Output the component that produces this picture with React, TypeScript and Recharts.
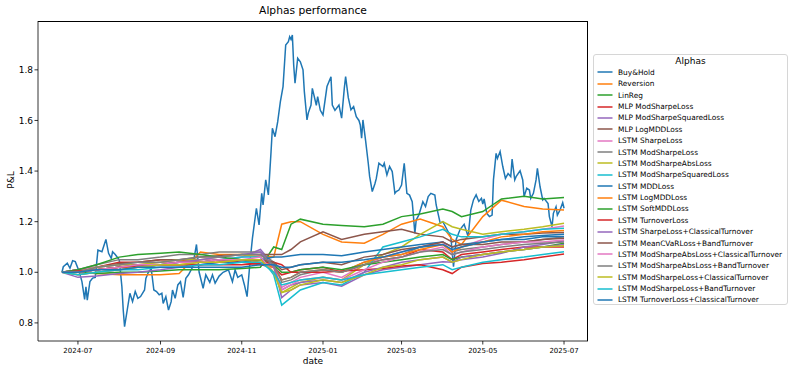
import React from 'react'
import { LineChart, Line, XAxis, YAxis } from 'recharts'

// Buy&Hold is sampled densely, the model alphas on a coarser grid
const bhDates = [
  '2024-06-19', '2024-06-20', '2024-06-23', '2024-06-25', '2024-06-27', '2024-06-29', '2024-07-02', '2024-07-04',
  '2024-07-06', '2024-07-07', '2024-07-08', '2024-07-10', '2024-07-12', '2024-07-14', '2024-07-16', '2024-07-19',
  '2024-07-22', '2024-07-24', '2024-07-26', '2024-07-27', '2024-07-29', '2024-08-01', '2024-08-03', '2024-08-04',
  '2024-08-05', '2024-08-07', '2024-08-09', '2024-08-11', '2024-08-13', '2024-08-15', '2024-08-17', '2024-08-20',
  '2024-08-21', '2024-08-23', '2024-08-25', '2024-08-27', '2024-08-29', '2024-08-31', '2024-09-02', '2024-09-03',
  '2024-09-05', '2024-09-07', '2024-09-09', '2024-09-10', '2024-09-12', '2024-09-14', '2024-09-16', '2024-09-18',
  '2024-09-20', '2024-09-22', '2024-09-25', '2024-09-28', '2024-09-30', '2024-10-03', '2024-10-05', '2024-10-08',
  '2024-10-10', '2024-10-12', '2024-10-15', '2024-10-18', '2024-10-22', '2024-10-25', '2024-10-27', '2024-10-29',
  '2024-11-01', '2024-11-03', '2024-11-05', '2024-11-07', '2024-11-09', '2024-11-12', '2024-11-14', '2024-11-16',
  '2024-11-17', '2024-11-19', '2024-11-21', '2024-11-23', '2024-11-24', '2024-11-26', '2024-11-28', '2024-11-30',
  '2024-12-02', '2024-12-04', '2024-12-06', '2024-12-07', '2024-12-08', '2024-12-09', '2024-12-10', '2024-12-11',
  '2024-12-13', '2024-12-15', '2024-12-17', '2024-12-18', '2024-12-20', '2024-12-21', '2024-12-23', '2024-12-24',
  '2024-12-27', '2024-12-28', '2024-12-30', '2025-01-01', '2025-01-04', '2025-01-07', '2025-01-08', '2025-01-10',
  '2025-01-13', '2025-01-15', '2025-01-17', '2025-01-18', '2025-01-20', '2025-01-22', '2025-01-24', '2025-01-26',
  '2025-01-28', '2025-01-29', '2025-01-30', '2025-01-31', '2025-02-02', '2025-02-04', '2025-02-05', '2025-02-07',
  '2025-02-09', '2025-02-10', '2025-02-12', '2025-02-15', '2025-02-16', '2025-02-18', '2025-02-20', '2025-02-22',
  '2025-02-24', '2025-02-25', '2025-02-27', '2025-03-01', '2025-03-03', '2025-03-05', '2025-03-07', '2025-03-09',
  '2025-03-11', '2025-03-12', '2025-03-14', '2025-03-17', '2025-03-19', '2025-03-21', '2025-03-23', '2025-03-26',
  '2025-03-27', '2025-03-30', '2025-04-01', '2025-04-04', '2025-04-07', '2025-04-09', '2025-04-11', '2025-04-14',
  '2025-04-17', '2025-04-20', '2025-04-22', '2025-04-24', '2025-04-26', '2025-04-28', '2025-04-30', '2025-05-01',
  '2025-05-02', '2025-05-04', '2025-05-06', '2025-05-08', '2025-05-09', '2025-05-11', '2025-05-12', '2025-05-14',
  '2025-05-16', '2025-05-18', '2025-05-20', '2025-05-22', '2025-05-23', '2025-05-25', '2025-05-26', '2025-05-29',
  '2025-05-31', '2025-06-01', '2025-06-03', '2025-06-05', '2025-06-06', '2025-06-08', '2025-06-10', '2025-06-11',
  '2025-06-13', '2025-06-15', '2025-06-16', '2025-06-19', '2025-06-20', '2025-06-22', '2025-06-23', '2025-06-25',
  '2025-06-26', '2025-06-28', '2025-06-30', '2025-07-01',
]
const buyHold = [
  1.0, 1.022, 1.036, 1.016, 1.046, 1.042, 1.002, 0.963,
  0.893, 0.943, 0.89, 0.963, 0.977, 0.98, 1.088, 1.081,
  1.13, 1.075, 1.055, 1.081, 1.07, 1.049, 0.943, 0.851,
  0.785, 0.851, 0.917, 0.884, 0.924, 0.897, 0.904, 0.93,
  0.976, 1.002, 1.015, 0.93, 0.924, 0.911, 0.917, 0.877,
  0.904, 0.851, 0.884, 0.93, 0.897, 0.95, 0.963, 0.901,
  0.976, 0.99, 1.02, 1.11, 1.0, 0.937, 0.99, 0.96,
  0.99, 0.957, 0.985, 1.0, 1.01, 0.963, 1.009, 0.98,
  0.99, 0.95, 0.904, 1.029, 1.134, 1.253, 1.187, 1.312,
  1.266, 1.365, 1.306, 1.477, 1.569, 1.536, 1.595, 1.674,
  1.734, 1.898, 1.911, 1.931, 1.92, 1.938, 1.819, 1.747,
  1.846, 1.832, 1.8, 1.714, 1.602, 1.63, 1.661, 1.727,
  1.66, 1.694, 1.64, 1.622, 1.734, 1.773, 1.661, 1.64,
  1.661, 1.609, 1.727, 1.773, 1.69, 1.642, 1.655, 1.615,
  1.6, 1.582, 1.53, 1.602, 1.52, 1.431, 1.38, 1.319,
  1.35, 1.37, 1.431, 1.418, 1.431, 1.385, 1.418, 1.398,
  1.312, 1.319, 1.325, 1.345, 1.431, 1.312, 1.305, 1.279,
  1.154, 1.207, 1.227, 1.279, 1.26, 1.299, 1.312, 1.305,
  1.266, 1.194, 1.2, 1.17, 1.14, 1.022, 1.13, 1.17,
  1.19, 1.141, 1.246, 1.286, 1.306, 1.28, 1.292, 1.27,
  1.29, 1.233, 1.22, 1.226, 1.365, 1.47, 1.45, 1.477,
  1.418, 1.371, 1.39, 1.378, 1.447, 1.365, 1.378, 1.401,
  1.365, 1.299, 1.332, 1.325, 1.292, 1.312, 1.365, 1.411,
  1.338, 1.286, 1.292, 1.272, 1.22, 1.18, 1.233, 1.259,
  1.226, 1.246, 1.275, 1.253,
]

const dates = [
  '2024-06-19', '2024-07-01', '2024-07-15', '2024-08-01', '2024-08-15', '2024-09-01', '2024-09-15', '2024-10-01',
  '2024-10-15', '2024-11-01', '2024-11-15', '2024-11-25', '2024-12-01', '2024-12-08', '2024-12-15', '2025-01-01',
  '2025-01-15', '2025-02-01', '2025-02-15', '2025-03-01', '2025-03-15', '2025-04-01', '2025-04-08', '2025-04-15',
  '2025-05-01', '2025-05-15', '2025-06-01', '2025-06-15', '2025-07-01',
]
const reversion = [1.0, 1.0, 0.995, 0.99, 0.99, 0.99, 0.995, 1.08, 1.07, 1.07, 1.065, 1.06, 1.19, 1.2, 1.2, 1.15, 1.12, 1.115, 1.15, 1.19, 1.21, 1.18, 1.13, 1.11, 1.22, 1.285, 1.26, 1.25, 1.246]
const linReg = [1.0, 1.0, 0.995, 1.0, 1.0, 1.005, 1.01, 1.01, 1.01, 1.015, 1.02, 1.1, 1.09, 1.19, 1.21, 1.19, 1.185, 1.18, 1.19, 1.22, 1.23, 1.25, 1.24, 1.22, 1.24, 1.29, 1.3, 1.29, 1.296]
const mlpModSharpe = [1.0, 1.01, 1.02, 1.04, 1.04, 1.05, 1.05, 1.04, 1.05, 1.04, 1.03, 1.02, 0.99, 1.0, 1.01, 1.02, 1.0, 1.03, 1.05, 1.06, 1.09, 1.08, 1.05, 1.07, 1.08, 1.09, 1.1, 1.1, 1.1]
const mlpModSharpeSq = [1.0, 0.98, 0.985, 0.995, 1.0, 1.01, 1.02, 1.03, 1.04, 1.06, 1.09, 1.03, 0.9, 0.93, 0.95, 0.96, 0.945, 0.99, 1.01, 1.02, 1.03, 1.042, 1.04, 1.05, 1.06, 1.075, 1.1, 1.11, 1.125]
const mlpLogMdd = [1.0, 1.01, 1.02, 1.035, 1.04, 1.05, 1.05, 1.06, 1.065, 1.07, 1.07, 1.07, 1.07, 1.09, 1.12, 1.16, 1.13, 1.15, 1.16, 1.17, 1.15, 1.14, 1.12, 1.13, 1.14, 1.15, 1.15, 1.155, 1.157]
const lstmSharpe = [1.0, 1.01, 1.02, 1.03, 1.03, 1.04, 1.04, 1.05, 1.05, 1.06, 1.07, 1.02, 0.94, 0.96, 0.98, 1.0, 0.98, 1.03, 1.06, 1.08, 1.1, 1.12, 1.08, 1.1, 1.13, 1.15, 1.16, 1.17, 1.183]
const lstmModSharpe = [1.0, 1.01, 1.03, 1.05, 1.05, 1.06, 1.07, 1.07, 1.08, 1.08, 1.08, 1.04, 0.96, 0.97, 0.99, 1.01, 1.0, 1.04, 1.06, 1.07, 1.1, 1.11, 1.08, 1.09, 1.1, 1.11, 1.12, 1.13, 1.14]
const lstmModSharpeAbs = [1.0, 1.0, 1.02, 1.03, 1.03, 1.04, 1.05, 1.05, 1.06, 1.07, 1.06, 1.0, 0.92, 0.94, 0.96, 0.98, 0.97, 1.03, 1.07, 1.1, 1.15, 1.2, 1.18, 1.17, 1.15, 1.16, 1.17, 1.18, 1.194]
const lstmModSharpeSq = [1.0, 1.0, 1.01, 1.02, 1.02, 1.03, 1.04, 1.04, 1.05, 1.06, 1.06, 0.99, 0.87, 0.9, 0.93, 0.96, 0.95, 1.0, 1.1, 1.12, 1.14, 1.17, 1.15, 1.14, 1.14, 1.15, 1.16, 1.17, 1.174]
const lstmMdd = [1.0, 1.0, 1.01, 1.02, 1.02, 1.03, 1.03, 1.03, 1.04, 1.04, 1.05, 1.06, 1.06, 1.065, 1.07, 1.07, 1.065, 1.08, 1.09, 1.1, 1.11, 1.12, 1.1, 1.11, 1.12, 1.13, 1.13, 1.14, 1.141]
const lstmLogMdd = [1.0, 1.0, 1.01, 1.02, 1.02, 1.03, 1.03, 1.04, 1.04, 1.05, 1.04, 1.02, 0.97, 0.98, 1.0, 1.01, 1.0, 1.04, 1.06, 1.07, 1.09, 1.11, 1.08, 1.1, 1.12, 1.14, 1.15, 1.16, 1.165]
const lstmSoftMdd = [1.0, 1.01, 1.03, 1.06, 1.07, 1.075, 1.08, 1.07, 1.06, 1.05, 1.05, 1.03, 1.0, 1.0, 1.01, 1.02, 1.01, 1.03, 1.04, 1.05, 1.06, 1.07, 1.05, 1.06, 1.07, 1.08, 1.09, 1.1, 1.115]
const lstmTurnover = [1.0, 1.005, 1.01, 1.02, 1.025, 1.03, 1.03, 1.03, 1.03, 1.03, 1.035, 1.04, 1.03, 1.0, 1.0, 1.0, 1.005, 1.01, 1.015, 1.025, 1.03, 1.01, 0.995, 1.02, 1.035, 1.04, 1.05, 1.06, 1.072]
const lstmSharpeCt = [1.0, 0.99, 1.0, 1.01, 1.02, 1.03, 1.04, 1.05, 1.06, 1.07, 1.08, 1.02, 0.93, 0.95, 0.96, 0.97, 0.96, 1.0, 1.02, 1.04, 1.05, 1.06, 1.04, 1.06, 1.07, 1.08, 1.09, 1.1, 1.11]
const lstmCvarBt = [1.0, 1.0, 1.01, 1.02, 1.03, 1.03, 1.04, 1.04, 1.05, 1.05, 1.05, 1.04, 1.01, 1.02, 1.03, 1.04, 1.03, 1.06, 1.07, 1.09, 1.1, 1.12, 1.1, 1.11, 1.11, 1.12, 1.12, 1.13, 1.135]
const lstmModSharpeAbsCt = [1.0, 1.0, 1.01, 1.02, 1.03, 1.03, 1.04, 1.04, 1.05, 1.05, 1.06, 1.0, 0.93, 0.95, 0.97, 0.98, 0.97, 1.01, 1.04, 1.06, 1.08, 1.1, 1.07, 1.08, 1.1, 1.11, 1.12, 1.12, 1.128]
const lstmModSharpeAbsBt = [1.0, 1.0, 1.02, 1.03, 1.04, 1.04, 1.05, 1.06, 1.06, 1.07, 1.07, 1.03, 0.97, 0.98, 1.0, 1.01, 1.0, 1.03, 1.05, 1.06, 1.08, 1.09, 1.07, 1.08, 1.09, 1.1, 1.11, 1.115, 1.12]
const lstmModSharpeCt = [1.0, 0.99, 1.0, 1.01, 1.02, 1.03, 1.03, 1.04, 1.04, 1.05, 1.05, 1.0, 0.92, 0.93, 0.95, 0.97, 0.96, 0.99, 1.02, 1.03, 1.05, 1.06, 1.04, 1.05, 1.07, 1.08, 1.09, 1.1, 1.105]
const lstmModSharpeBt = [1.0, 0.99, 1.0, 1.01, 1.01, 1.02, 1.02, 1.03, 1.03, 1.04, 1.04, 1.0, 0.95, 0.96, 0.97, 0.98, 0.97, 0.99, 1.0, 1.01, 1.02, 1.03, 1.01, 1.02, 1.04, 1.05, 1.06, 1.07, 1.081]
const lstmTurnoverCt = [1.0, 1.0, 1.01, 1.01, 1.02, 1.02, 1.02, 1.02, 1.02, 1.02, 1.03, 1.03, 1.02, 1.02, 1.03, 1.04, 1.04, 1.05, 1.06, 1.08, 1.1, 1.11, 1.09, 1.1, 1.12, 1.13, 1.14, 1.145, 1.15]

const alphaNames = [
  'Buy&Hold', 'Reversion', 'LinReg', 'MLP ModSharpeLoss', 'MLP ModSharpeSquaredLoss', 'MLP LogMDDLoss',
  'LSTM SharpeLoss', 'LSTM ModSharpeLoss', 'LSTM ModSharpeAbsLoss', 'LSTM ModSharpeSquaredLoss', 'LSTM MDDLoss',
  'LSTM LogMDDLoss', 'LSTM SoftMDDLoss', 'LSTM TurnoverLoss', 'LSTM SharpeLoss+ClassicalTurnover',
  'LSTM MeanCVaRLoss+BandTurnover', 'LSTM ModSharpeAbsLoss+ClassicalTurnover', 'LSTM ModSharpeAbsLoss+BandTurnover',
  'LSTM ModSharpeLoss+ClassicalTurnover', 'LSTM ModSharpeLoss+BandTurnover', 'LSTM TurnoverLoss+ClassicalTurnover',
]
const modelSeries = [
  reversion, linReg, mlpModSharpe, mlpModSharpeSq, mlpLogMdd, lstmSharpe, lstmModSharpe, lstmModSharpeAbs,
  lstmModSharpeSq, lstmMdd, lstmLogMdd, lstmSoftMdd, lstmTurnover, lstmSharpeCt, lstmCvarBt, lstmModSharpeAbsCt,
  lstmModSharpeAbsBt, lstmModSharpeCt, lstmModSharpeBt, lstmTurnoverCt,
]
const tab10 = ['#1f77b4', '#ff7f0e', '#2ca02c', '#d62728', '#9467bd', '#8c564b', '#e377c2', '#7f7f7f', '#bcbd22', '#17becf']

const yTicks = [0.8, 1.0, 1.2, 1.4, 1.6, 1.8]
const xTickDates = ['2024-07-01', '2024-09-01', '2024-11-01', '2025-01-01', '2025-03-01', '2025-05-01', '2025-07-01']

const toTs = (s: string) => {
  const [y, m, d] = s.split('-').map(Number)
  return Date.UTC(y, m - 1, d)
}

const rows = new Map<number, Record<string, number>>()
bhDates.forEach((d, i) => {
  const t = toTs(d)
  const row = rows.get(t) ?? { t }
  row.s0 = buyHold[i]
  rows.set(t, row)
})
dates.forEach((d, i) => {
  const t = toTs(d)
  const row = rows.get(t) ?? { t }
  modelSeries.forEach((vals, k) => {
    row['s' + (k + 1)] = vals[i]
  })
  rows.set(t, row)
})
const data = [...rows.values()].sort((a, b) => a.t - b.t)

const xDomain = [toTs('2024-06-01'), toTs('2025-07-19')]
const yDomain = [0.7285, 1.993]

const fmtMonth = (t: number) => {
  const d = new Date(t)
  return `${d.getUTCFullYear()}-${String(d.getUTCMonth() + 1).padStart(2, '0')}`
}

const font = 'DejaVu Sans, sans-serif'

function AlphaLegend() {
  return (
    <div
      style={{
        position: 'absolute',
        left: 593,
        top: 54,
        width: 195,
        height: 251,
        border: '1px solid #d6d6d6',
        borderRadius: 3,
        background: 'rgba(255,255,255,0.8)',
        boxSizing: 'border-box',
        fontFamily: font,
      }}
    >
      <div style={{ position: 'absolute', left: 0, right: 0, top: 0, height: 12, lineHeight: '12px', textAlign: 'center', fontSize: 9 }}>
        Alphas
      </div>
      {alphaNames.map((name, i) => (
        <div
          key={name}
          style={{ position: 'absolute', left: 3, top: 11.8 + i * 11.37, height: 11.4, display: 'flex', alignItems: 'center' }}
        >
          <svg width={16} height={4} style={{ display: 'block' }}>
            <line x1={0.5} y1={2} x2={15.5} y2={2} stroke={tab10[i % 10]} strokeWidth={1.5} />
          </svg>
          <span style={{ marginLeft: 5, fontSize: 7.4, whiteSpace: 'nowrap', color: '#000' }}>{name}</span>
        </div>
      ))}
    </div>
  )
}

export default function App() {
  return (
    <div style={{ position: 'absolute', left: 0, top: 0, width: 793, height: 373, background: '#fff', fontFamily: font }}>
      <LineChart width={793} height={373} data={data} margin={{ top: 21, right: 205, bottom: 0, left: 0 }}>
        <XAxis
          dataKey="t"
          type="number"
          domain={xDomain}
          ticks={xTickDates.map(toTs)}
          tickFormatter={fmtMonth}
          allowDataOverflow
          height={32}
          tickSize={3.5}
          tickMargin={3.5}
          stroke="#000"
          strokeWidth={0.8}
          tick={{ fontSize: 7, fill: '#000', fontFamily: font }}
        />
        <YAxis
          type="number"
          domain={yDomain}
          ticks={yTicks}
          tickFormatter={(v: number) => v.toFixed(1)}
          allowDataOverflow
          width={38}
          tickSize={3.5}
          tickMargin={1.5}
          stroke="#000"
          strokeWidth={0.8}
          tick={{ fontSize: 9, fill: '#000', fontFamily: font }}
        />
        {alphaNames.map((name, i) => (
          <Line
            key={name}
            dataKey={'s' + i}
            name={name}
            stroke={tab10[i % 10]}
            strokeWidth={1.5}
            dot={false}
            connectNulls
            isAnimationActive={false}
          />
        ))}
      </LineChart>
      {/* axes frame (top and right spines) */}
      <div
        style={{
          position: 'absolute',
          left: 38,
          top: 21,
          width: 550,
          height: 320,
          borderTop: '0.8px solid #000',
          borderRight: '0.8px solid #000',
          boxSizing: 'border-box',
          pointerEvents: 'none',
        }}
      />
      <div style={{ position: 'absolute', left: 213, width: 200, top: 4, textAlign: 'center', fontSize: 10.7, lineHeight: '14px' }}>
        Alphas performance
      </div>
      <div style={{ position: 'absolute', left: 263, width: 100, top: 355, textAlign: 'center', fontSize: 9, lineHeight: '12px' }}>date</div>
      <div
        style={{
          position: 'absolute',
          left: 10.8,
          top: 180,
          fontSize: 9,
          lineHeight: '12px',
          whiteSpace: 'nowrap',
          transform: 'translate(-50%, -50%) rotate(-90deg)',
        }}
      >
        P&amp;L
      </div>
      <AlphaLegend />
    </div>
  )
}
